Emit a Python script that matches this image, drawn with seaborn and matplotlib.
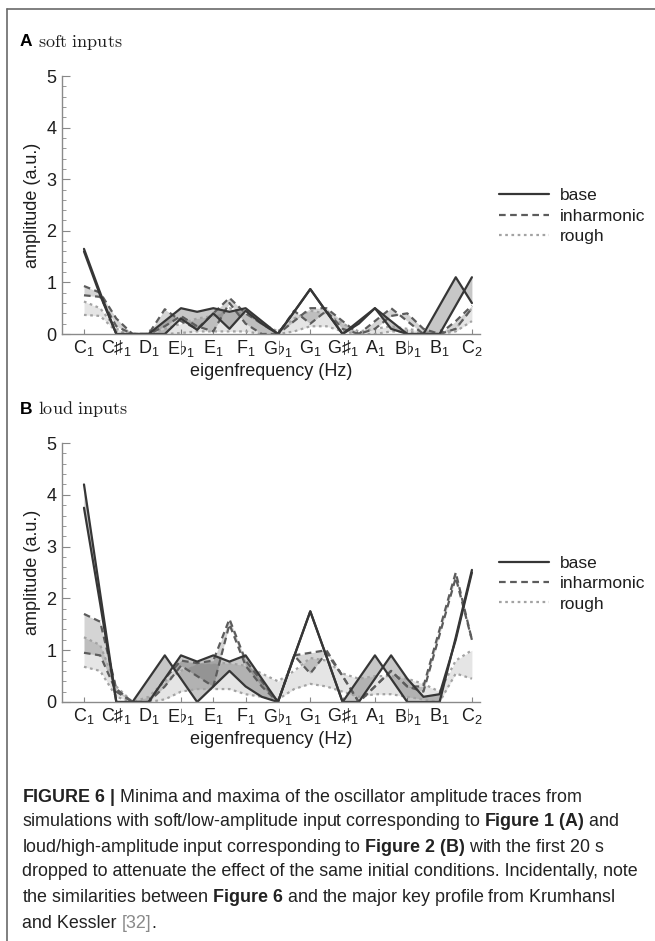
import numpy as np
import matplotlib
matplotlib.use('Agg')
import matplotlib.pyplot as plt
import seaborn as sns
from matplotlib.lines import Line2D

# eigenfrequency grid in semitones above C1 (half-semitone steps)
steps = np.arange(0, 12.5, 0.5)
note_labels = ['C$_1$', 'C$\\sharp_1$', 'D$_1$', 'E$\\flat_1$', 'E$_1$', 'F$_1$',
               'G$\\flat_1$', 'G$_1$', 'G$\\sharp_1$', 'A$_1$', 'B$\\flat_1$', 'B$_1$', 'C$_2$']
conditions = ['base', 'inharmonic', 'rough']

# soft inputs (A)
soft_base_max = [1.65, 0.8, 0, 0, 0, 0.25, 0.5, 0.43, 0.5, 0.43, 0.5, 0.25, 0, 0.43, 0.87, 0.43, 0, 0.25, 0.5, 0.25, 0, 0, 0, 0.55, 1.1]
soft_base_min = [1.6, 0.75, 0, 0, 0, 0, 0.3, 0.08, 0.4, 0.1, 0.45, 0.2, 0, 0.43, 0.87, 0.43, 0, 0.2, 0.5, 0.1, 0, 0, 0.55, 1.1, 0.6]
soft_inh_max = [0.93, 0.8, 0.3, 0, 0, 0.48, 0.25, 0.1, 0.4, 0.7, 0.4, 0.2, 0, 0.25, 0.5, 0.5, 0.25, 0, 0.25, 0.5, 0.25, 0, 0, 0.25, 0.55]
soft_inh_min = [0.75, 0.72, 0.15, 0, 0, 0.15, 0.35, 0.15, 0.05, 0.6, 0.2, 0, 0, 0.45, 0.2, 0.45, 0.1, 0, 0.1, 0.35, 0.4, 0.1, 0, 0.1, 0.5]
soft_rough_max = [0.63, 0.5, 0.1, 0, 0, 0.1, 0.2, 0.3, 0.35, 0.5, 0.4, 0.2, 0.05, 0.3, 0.45, 0.4, 0.2, 0.05, 0.1, 0.15, 0.1, 0.05, 0, 0.1, 0.5]
soft_rough_min = [0.37, 0.35, 0.05, 0, 0, 0, 0.02, 0.05, 0.05, 0.05, 0.05, 0, 0, 0.05, 0.15, 0.15, 0.05, 0, 0, 0.05, 0.05, 0, 0, 0.05, 0.25]

# loud inputs (B)
loud_base_max = [4.2, 2.1, 0, 0, 0, 0.45, 0.9, 0.78, 0.9, 0.78, 0.9, 0.45, 0, 0.88, 1.75, 0.88, 0, 0.45, 0.9, 0.45, 0, 0, 0, 1.25, 2.55]
loud_base_min = [3.75, 1.9, 0, 0, 0.45, 0.9, 0.45, 0, 0.3, 0.6, 0.3, 0.1, 0, 0.88, 1.75, 0.88, 0, 0, 0.45, 0.9, 0.45, 0.1, 0.15, 1.2, 2.5]
loud_inh_max = [1.7, 1.55, 0.25, 0, 0, 0.45, 0.8, 0.75, 0.8, 1.6, 0.8, 0.4, 0, 0.9, 0.95, 1.0, 0.5, 0, 0.3, 0.6, 0.3, 0.3, 1.4, 2.5, 1.2]
loud_inh_min = [0.95, 0.9, 0.2, 0, 0, 0.3, 0.7, 0.5, 0.3, 1.5, 0.7, 0.3, 0, 0.9, 0.55, 0.95, 0.5, 0, 0.3, 0.6, 0.3, 0.2, 1.3, 2.4, 1.2]
loud_rough_max = [1.25, 1.1, 0.3, 0, 0.1, 0.4, 0.6, 0.75, 0.75, 0.75, 0.7, 0.55, 0.4, 0.6, 0.85, 0.8, 0.55, 0.45, 0.5, 0.5, 0.45, 0.35, 0.2, 0.8, 1.0]
loud_rough_min = [0.68, 0.6, 0.1, 0, 0, 0.05, 0.2, 0.25, 0.25, 0.25, 0.15, 0.1, 0.05, 0.25, 0.35, 0.3, 0.2, 0.1, 0.15, 0.15, 0.1, 0.05, 0, 0.55, 0.45]

line_color = {'base': '#363636', 'inharmonic': '#5c5c5c', 'rough': '#a3a3a3'}
line_dash = {'base': (None, None), 'inharmonic': (3, 2), 'rough': (1.2, 1.6)}
fill_alpha = {'base': 0.22, 'inharmonic': 0.17, 'rough': 0.1}

sns.set_theme(style='white')
plt.rcParams['font.family'] = ['Liberation Sans', 'DejaVu Sans']
plt.rcParams['mathtext.fontset'] = 'custom'
plt.rcParams['mathtext.rm'] = 'Liberation Sans'
plt.rcParams['mathtext.it'] = 'Liberation Sans:italic'
plt.rcParams['mathtext.bf'] = 'Liberation Sans:bold'
plt.rcParams['mathtext.fallback'] = 'cm'

W, H = 655, 941
fig = plt.figure(figsize=(W / 100, H / 100), dpi=100)
FS = 13


def draw_panel(top, bottom, letter, title, series):
    ax = fig.add_axes([62 / W, 1 - bottom / H, 418 / W, (bottom - top) / H])
    for cond in ['rough', 'inharmonic', 'base']:
        lo, hi = series[cond]
        ax.fill_between(steps, lo, hi, color='black', alpha=fill_alpha[cond], lw=0)
    for cond in ['rough', 'inharmonic', 'base']:
        for vals in series[cond]:
            sns.lineplot(x=steps, y=vals, ax=ax, color=line_color[cond], lw=1.6)
            ln = ax.lines[-1]
            if line_dash[cond][0] is not None:
                ln.set_dashes(line_dash[cond])
    ax.set_xlim(-0.68, 12.25)
    ax.set_ylim(0, 5)
    ax.set_xticks(range(13))
    ax.set_xticklabels(note_labels)
    ax.set_yticks(range(6))
    ax.set_yticks(np.arange(0, 5.01, 0.2), minor=True)
    ax.tick_params(axis='both', which='both', direction='in', colors='#888888',
                   labelcolor='#1e1e1e', labelsize=FS, bottom=True, left=True)
    ax.tick_params(axis='y', which='major', length=6, width=0.8, pad=4)
    ax.tick_params(axis='y', which='minor', length=3, width=0.6)
    ax.tick_params(axis='x', which='major', length=3.5, width=0.8, pad=3)
    for s in ['top', 'right']:
        ax.spines[s].set_visible(False)
    for s in ['left', 'bottom']:
        ax.spines[s].set_color('#8a8a8a')
        ax.spines[s].set_linewidth(1.0)
    ax.set_xlabel('eigenfrequency (Hz)', fontsize=FS, color='#1e1e1e', labelpad=3)
    ax.set_ylabel('amplitude (a.u.)', fontsize=FS, color='#1e1e1e', labelpad=4)
    handles = [Line2D([], [], color=line_color[c], lw=1.6) for c in conditions]
    for h, c in zip(handles, conditions):
        if line_dash[c][0] is not None:
            h.set_dashes(line_dash[c])
    leg = ax.legend(handles, conditions, loc='center left', bbox_to_anchor=(1.045, 0.457),
                    frameon=False, handlelength=2.9, handletextpad=0.6, labelspacing=0.3,
                    fontsize=12.5, borderpad=0, borderaxespad=0)
    for t in leg.get_texts():
        t.set_color('#1e1e1e')
    fig.text(20 / W, 1 - (top - 34) / H, letter, fontsize=12.5, weight='bold',
             color='black', va='center', ha='left')
    fig.text(38 / W, 1 - (top - 34) / H, '$\\mathrm{' + title.replace(' ', '\\ ') + '}$',
             fontsize=13, math_fontfamily='cm', va='center', ha='left', color='#1e1e1e')
    return ax


draw_panel(76, 334, 'A', 'soft inputs',
           {'base': (soft_base_min, soft_base_max),
            'inharmonic': (soft_inh_min, soft_inh_max),
            'rough': (soft_rough_min, soft_rough_max)})
draw_panel(443, 702, 'B', 'loud inputs',
           {'base': (loud_base_min, loud_base_max),
            'inharmonic': (loud_inh_min, loud_inh_max),
            'rough': (loud_rough_min, loud_rough_max)})

# caption
caption_lines = [
    '$\\mathbf{FIGURE\\ 6\\ |}$ Minima and maxima of the oscillator amplitude traces from',
    'simulations with soft/low-amplitude input corresponding to $\\mathbf{Figure\\ 1\\ (A)}$ and',
    'loud/high-amplitude input corresponding to $\\mathbf{Figure\\ 2\\ (B)}$ with the first 20 s',
    'dropped to attenuate the effect of the same initial conditions. Incidentally, note',
    'the similarities between $\\mathbf{Figure\\ 6}$ and the major key profile from Krumhansl',
]
CFS = 12.9
caption_y = [797, 822, 847, 872, 898]
for line, y in zip(caption_lines, caption_y):
    fig.text(22 / W, 1 - y / H, line, fontsize=CFS, color='#222222', va='center', ha='left')
last = fig.text(22 / W, 1 - 923 / H, 'and Kessler ', fontsize=CFS, color='#222222',
                va='center', ha='left')
a1 = plt.annotate('[32]', xy=(1, 0.5), xycoords=last, va='center', ha='left',
                  fontsize=CFS, color='#8a8a8a', annotation_clip=False)
plt.annotate('.', xy=(1, 0.5), xycoords=a1, va='center', ha='left',
             fontsize=CFS, color='#222222', annotation_clip=False)

# page frame
fig.add_artist(Line2D([7 / W, 7 / W], [0, 1 - 9 / H], transform=fig.transFigure,
                      color='#6a6a6a', lw=1.2))
fig.add_artist(Line2D([7 / W, 1], [1 - 9 / H, 1 - 9 / H], transform=fig.transFigure,
                      color='#6a6a6a', lw=1.2))

fig.savefig('out.png', dpi=100)
